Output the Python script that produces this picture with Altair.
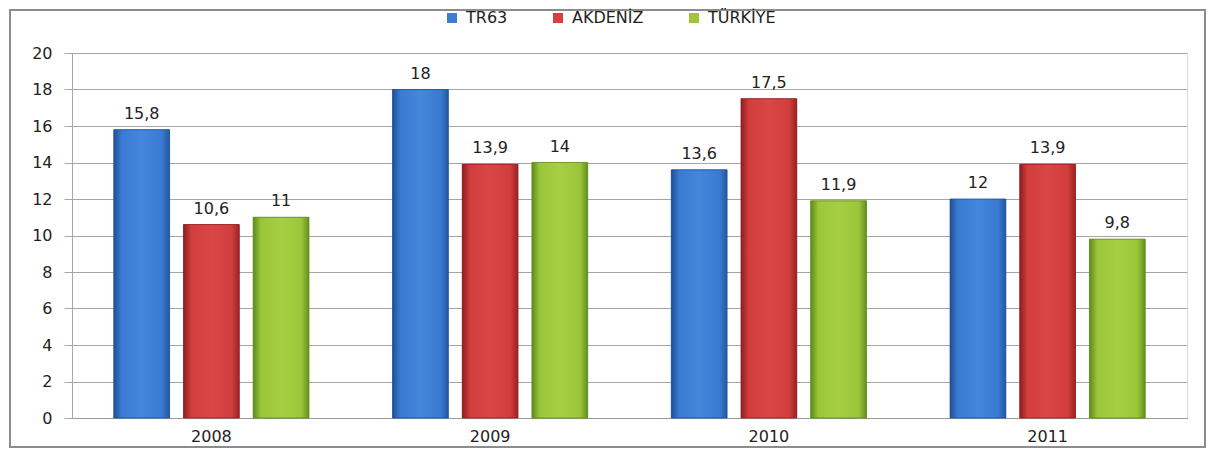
import altair as alt
import pandas as pd

years = ["2008", "2009", "2010", "2011"]
series = ["TR63", "AKDENİZ", "TÜRKİYE"]
tr63 = [15.8, 18, 13.6, 12]
akdeniz = [10.6, 13.9, 17.5, 13.9]
turkiye = [11, 14, 11.9, 9.8]
colors = ["#3c7ed4", "#d64040", "#9ec63c"]
grads = [
    ["#1e4f96", "#3a7bd2", "#4486da", "#24589f"],
    ["#8e1e1e", "#d23e3e", "#da4646", "#9a2222"],
    ["#5c8a1a", "#9cc63a", "#a6cf44", "#668f1e"],
]

rows = []
for s, vals in zip(series, [tr63, akdeniz, turkiye]):
    for y, v in zip(years, vals):
        rows.append({"year": y, "series": s, "value": v,
                     "label": (f"{v:g}").replace(".", ",")})
df = pd.DataFrame(rows)

FONT = "DejaVu Sans"
FS = 16
x = alt.X("year:N", title=None, sort=years,
          scale=alt.Scale(paddingInner=0.25, paddingOuter=0.125),
          axis=alt.Axis(labelAngle=0, ticks=False, labelPadding=10, labelFontSize=FS,
                        labelFont=FONT, labelColor="#222", domainColor="#999", grid=False))
xo = alt.XOffset("series:N", sort=series, scale=alt.Scale(paddingInner=0.2, paddingOuter=0.1))
y = alt.Y("value:Q", title=None, scale=alt.Scale(domain=[0, 20], nice=False),
          axis=alt.Axis(values=list(range(0, 21, 2)), tickSize=8, labelPadding=12,
                        labelFontSize=FS, labelFont=FONT, labelColor="#222",
                        gridColor="#a6a6a6", tickColor="#a6a6a6", domainColor="#a6a6a6",
                        gridWidth=1))

base = alt.Chart(df)

legend_bars = base.mark_bar().encode(
    x=x, xOffset=xo, y=y,
    color=alt.Color("series:N", sort=series,
                    scale=alt.Scale(domain=series, range=colors),
                    legend=alt.Legend(title=None, orient="none", direction="horizontal",
                                      legendX=372, legendY=-43, symbolType="square",
                                      symbolSize=100, symbolStrokeWidth=0,
                                      labelFontSize=16, labelFont=FONT, labelColor="#222",
                                      columnPadding=42, labelOffset=6)))

layers = [legend_bars]
for s, g in zip(series, grads):
    grad = alt.LinearGradient(gradient="linear", x1=0, x2=1, y1=0, y2=0,
                              stops=[alt.GradientStop(color=g[0], offset=0),
                                     alt.GradientStop(color=g[1], offset=0.14),
                                     alt.GradientStop(color=g[2], offset=0.5),
                                     alt.GradientStop(color=g[1], offset=0.86),
                                     alt.GradientStop(color=g[3], offset=1)])
    layers.append(base.transform_filter(alt.datum.series == s).mark_bar(
        color=grad, stroke=g[0], strokeWidth=0.8).encode(x=x, xOffset=xo, y=y))

text = base.mark_text(baseline="bottom", dy=-8, fontSize=FS, font=FONT, color="#222").encode(
    x=x, xOffset=xo, y=y, text="label:N")
layers.append(text)

frame = alt.Chart(pd.DataFrame({"a": [0]})).mark_rect(
    fill=None, stroke="#8c8c8c", strokeWidth=2).encode(
    x=alt.value(-62), x2=alt.value(1133), y=alt.value(-43), y2=alt.value(394))

chart = alt.layer(frame, *layers).properties(
    width=1115, height=365,
    autosize=alt.AutoSizeParams(type="none"),
    padding={"left": 64, "top": 45, "right": 20, "bottom": 31},
).configure_view(stroke=None).configure(background="white")

chart.save("out.html", embed_options={"renderer": "svg", "actions": False})
